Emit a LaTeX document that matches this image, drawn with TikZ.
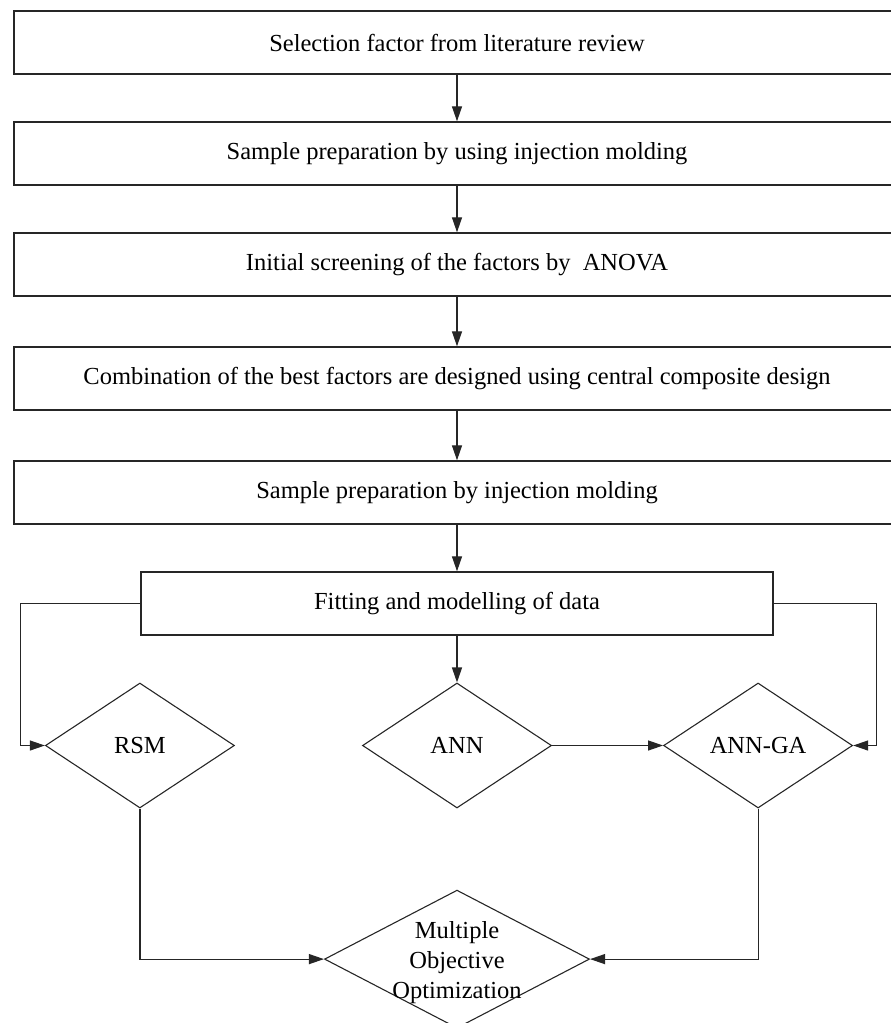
\documentclass[tikz,border=0pt]{standalone}
\usepackage{fontspec}
\setmainfont{Liberation Serif}
\usetikzlibrary{positioning}
\usetikzlibrary{arrows.meta,shapes.geometric}
\colorlet{lineclr}{black!85}

\begin{document}
\begin{tikzpicture}[
		x=1pt,y=1pt,
		every node/.style={
    		font=\fontsize{24.5}{30}\selectfont,
    		text=black
    	},
    	stepbox/.style={draw=lineclr,line width=1.3pt,rectangle,minimum width=886pt,minimum height=63pt,inner sep=0pt},
    	choice/.style={draw=lineclr,line width=1.1pt,diamond,minimum width=189pt,minimum height=125pt,inner sep=0pt},
    	arr/.style={-{Triangle[length=15pt,width=10pt]},lineclr,line width=1.2pt}
	]
	
	\useasboundingbox (0,0) rectangle (891,-1023);

	\node[stepbox] (lit) at (457,-42.5) {Selection factor from literature review};
	\node[stepbox,below=46.7pt of lit] (prep) {Sample preparation by using injection molding};
	\node[stepbox,below=46.7pt of prep] (anova) {Initial screening of the factors by\ \ ANOVA};
	\node[stepbox,below=49.7pt of anova] (ccd) {Combination of the best factors are designed using central composite design};
	\node[stepbox,below=49.7pt of ccd] (prep2) {Sample preparation by injection molding};
	\node[stepbox,below=46.7pt of prep2,minimum width=632pt] (fit) {Fitting and modelling of data};

	\node[choice,below=46.8pt of fit] (ann) {ANN};
	\node[choice,left=127pt of ann] (rsm) {RSM};
	\node[choice,right=111pt of ann] (anga) {ANN-GA};

	\node[draw=lineclr,line width=1.1pt,diamond,minimum width=265pt,minimum height=138pt,inner sep=0pt,below=81pt of ann] (moo) {};
	\node[align=center,yshift=-3pt] (mootext) at (moo) {Multiple\\Objective\\Optimization};

	% main chain
	\foreach \a/\b in {lit/prep,prep/anova,anova/ccd,ccd/prep2,prep2/fit,fit/ann}{
		\draw[arr] (\a.south) -- (\b.north);
	}

	\draw[arr] (fit.west) -| ([xshift=-24pt]rsm.west) -- (rsm.west);
	\draw[arr] (fit.east) -| ([xshift=23pt]anga.east) -- (anga.east);
	\draw[arr] (ann.east) -- (anga.west);

	\draw[arr] (rsm.south) |- (moo.west);
	\draw[arr] (anga.south) |- (moo.east);

\end{tikzpicture}
\end{document}
